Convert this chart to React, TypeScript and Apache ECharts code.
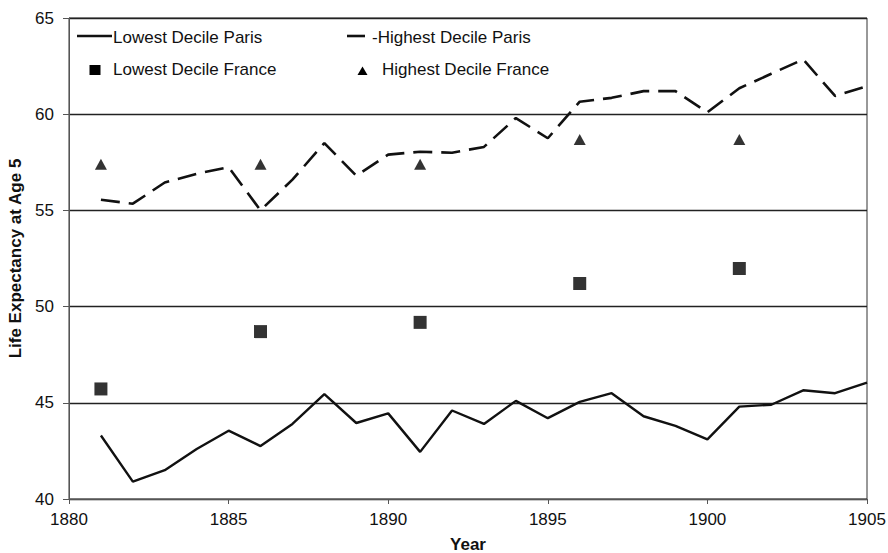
import React, { useEffect, useRef } from "react";
import * as echarts from "echarts";

// Life expectancy at age 5, by year
const years = [
  1881, 1882, 1883, 1884, 1885, 1886, 1887, 1888, 1889, 1890, 1891, 1892, 1893,
  1894, 1895, 1896, 1897, 1898, 1899, 1900, 1901, 1902, 1903, 1904, 1905,
];
const lowestParis = [
  43.3, 40.9, 41.5, 42.6, 43.55, 42.75, 43.9, 45.45, 43.95, 44.45, 42.45, 44.6,
  43.9, 45.1, 44.2, 45.05, 45.5, 44.3, 43.8, 43.1, 44.8, 44.9, 45.65, 45.5, 46.05,
];
const highestParis = [
  55.55, 55.35, 56.45, 56.9, 57.25, 55.0, 56.6, 58.5, 56.8, 57.9, 58.05, 58.0,
  58.3, 59.8, 58.75, 60.65, 60.85, 61.2, 61.2, 60.1, 61.35, 62.1, 62.85, 60.95, 61.45,
];
const franceYears = [1881, 1886, 1891, 1896, 1901];
const lowestFrance = [45.72, 48.7, 49.18, 51.2, 51.98];
const highestFrance = [57.4, 57.4, 57.4, 58.68, 58.68];

const FONT = "'Liberation Sans', Arial, Helvetica, sans-serif";
const INK = "#111";

export default function App() {
  const ref = useRef<HTMLDivElement>(null);

  useEffect(() => {
    if (!ref.current) return;
    const chart = echarts.init(ref.current, null, { renderer: "svg" });

    const legendText = (x: number, y: number, text: string) => ({
      type: "text",
      x,
      y,
      style: {
        text,
        fill: INK,
        font: `17px ${FONT}`,
        verticalAlign: "middle",
        align: "left",
      },
    });

    chart.setOption({
      animation: false,
      backgroundColor: "#fff",
      grid: {
        left: 69,
        right: 21,
        top: 18,
        bottom: 54,
        outerBoundsMode: "none",
        containLabel: false,
        show: true,
        borderColor: "#333",
        borderWidth: 1,
        backgroundColor: "transparent",
      },
      xAxis: {
        type: "value",
        min: 1880,
        max: 1905,
        interval: 5,
        name: "Year",
        nameLocation: "middle",
        nameGap: 37,
        nameTextStyle: { fontFamily: FONT, fontSize: 17, fontWeight: "bold", color: INK },
        axisLine: { show: true, lineStyle: { color: "#555", width: 1 } },
        axisTick: { show: true, length: 5, lineStyle: { color: "#555" } },
        axisLabel: {
          fontFamily: FONT,
          fontSize: 17,
          color: INK,
          margin: 12,
          formatter: (v: number) => String(v),
        },
        splitLine: { show: false },
      },
      yAxis: {
        type: "value",
        min: 40,
        max: 65,
        interval: 5,
        name: "Life Expectancy at Age 5",
        nameLocation: "middle",
        nameGap: 41,
        nameTextStyle: { fontFamily: FONT, fontSize: 17, fontWeight: "bold", color: INK },
        axisLine: { show: true, lineStyle: { color: "#555", width: 1 } },
        axisTick: { show: true, length: 6, lineStyle: { color: "#555" } },
        axisLabel: { fontFamily: FONT, fontSize: 17, color: INK, margin: 15 },
        splitLine: { show: true, lineStyle: { color: "#222", width: 1.3 } },
      },
      series: [
        {
          name: "Lowest Decile Paris",
          type: "line",
          data: years.map((y, i) => [y, lowestParis[i]]),
          symbol: "none",
          lineStyle: { color: INK, width: 2.4 },
        },
        {
          name: "Highest Decile Paris",
          type: "line",
          data: years.map((y, i) => [y, highestParis[i]]),
          symbol: "none",
          lineStyle: { color: INK, width: 2.6, type: [19, 9] },
        },
        {
          name: "Lowest Decile France",
          type: "scatter",
          data: franceYears.map((y, i) => [y, lowestFrance[i]]),
          symbol: "rect",
          symbolSize: 13,
          itemStyle: { color: "#000" },
        },
        {
          name: "Highest Decile France",
          type: "scatter",
          data: franceYears.map((y, i) => [y, highestFrance[i]]),
          symbol: "triangle",
          symbolSize: [12, 11],
          itemStyle: { color: "#000" },
        },
      ],
      graphic: [
        {
          type: "line",
          shape: { x1: 77, y1: 36, x2: 112, y2: 36 },
          style: { stroke: INK, lineWidth: 2.4 },
        },
        legendText(113, 37, "Lowest Decile Paris"),
        {
          type: "line",
          shape: { x1: 347, y1: 36, x2: 365, y2: 36 },
          style: { stroke: INK, lineWidth: 2.6 },
        },
        legendText(372, 37, "-Highest Decile Paris"),
        {
          type: "rect",
          shape: { x: 89.5, y: 65, width: 11, height: 10 },
          style: { fill: "#000" },
        },
        legendText(113, 69, "Lowest Decile France"),
        {
          type: "polygon",
          shape: { points: [[362.5, 66.5], [367.5, 75], [357.5, 75]] },
          style: { fill: "#000" },
        },
        legendText(382, 69, "Highest Decile France"),
      ],
    });

    return () => chart.dispose();
  }, []);

  return <div ref={ref} style={{ width: 888, height: 553, position: "absolute", left: 0, top: 0 }} />;
}
